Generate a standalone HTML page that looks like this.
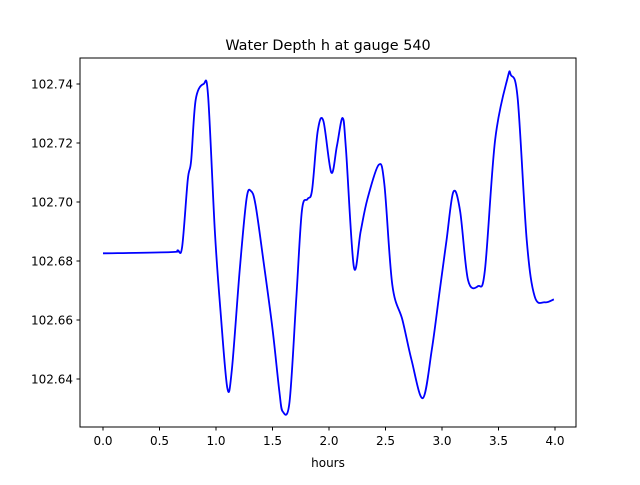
<!DOCTYPE html>
<html><head><meta charset="utf-8"><style>
body{margin:0;background:#fff;}
svg text{font-family:"DejaVu Sans","Liberation Sans",sans-serif;}
</style></head><body>
<svg width="640" height="480" xmlns="http://www.w3.org/2000/svg">
<rect width="640" height="480" fill="#fff"/>
<text x="328" y="50" text-anchor="middle" font-size="14.4">Water Depth h at gauge 540</text>
<g id="ticks"></g>
<path id="line" fill="none" stroke="#0000ff" stroke-width="1.8" stroke-linejoin="round"/>
<rect x="80" y="58" width="496" height="369" fill="none" stroke="#000" stroke-width="1"/>
<text x="328" y="467" text-anchor="middle" font-size="12">hours</text>
</svg>
<script>
const hours=[0,0.6,0.66,0.7,0.75,0.78,0.82,0.89,0.93,0.99,1.04,1.10,1.14,1.21,1.27,1.31,1.35,1.42,1.50,1.56,1.59,1.65,1.71,1.76,1.81,1.85,1.90,1.95,2.02,2.07,2.12,2.15,2.22,2.28,2.34,2.44,2.49,2.56,2.65,2.73,2.83,2.91,2.98,3.04,3.10,3.16,3.23,3.32,3.38,3.47,3.58,3.61,3.67,3.75,3.82,3.91,3.99];
const depth=[102.6826,102.683,102.6836,102.6847,102.7075,102.714,102.7346,102.74,102.736,102.690,102.663,102.637,102.643,102.677,102.701,102.7037,102.699,102.680,102.657,102.636,102.629,102.632,102.667,102.697,102.701,102.704,102.724,102.7275,102.710,102.719,102.7285,102.718,102.678,102.690,102.701,102.7126,102.706,102.672,102.660,102.6465,102.6335,102.650,102.670,102.687,102.7034,102.697,102.6736,102.6715,102.677,102.721,102.742,102.743,102.735,102.687,102.668,102.666,102.667];
const xTicks=[0,0.5,1,1.5,2,2.5,3,3.5,4];
const xTickLabels=["0.0","0.5","1.0","1.5","2.0","2.5","3.0","3.5","4.0"];
const yTicks=[102.64,102.66,102.68,102.70,102.72,102.74];
const yTickLabels=["102.64","102.66","102.68","102.70","102.72","102.74"];
const sx=h=>103+h*113;
const sy=v=>84+(102.74-v)*2950;
const NS="http://www.w3.org/2000/svg";
const g=document.getElementById('ticks');
function mk(tag,attrs){const e=document.createElementNS(NS,tag);for(const k in attrs)e.setAttribute(k,attrs[k]);return e;}
xTicks.forEach((t,i)=>{
 const l=mk('line',{x1:sx(t),x2:sx(t),y1:427,y2:430.5,stroke:'#000'});
 
 
 g.appendChild(l);
 const tx=mk('text',{x:sx(t),y:445,'text-anchor':'middle','font-size':'12'});
 tx.textContent=xTickLabels[i];
 
 
 g.appendChild(tx);
});
yTicks.forEach((t,i)=>{
 const l=mk('line',{x1:76.5,x2:80,y1:sy(t),y2:sy(t),stroke:'#000'});
 
 
 g.appendChild(l);
 const tx=mk('text',{x:73,y:sy(t)+4.5,'text-anchor':'end','font-size':'12'});
 tx.textContent=yTickLabels[i];
 
 
 g.appendChild(tx);
});
const P=hours.map((h,i)=>[sx(h),sy(depth[i])]);
let d='M'+P[0][0]+','+P[0][1];
for(let i=0;i<P.length-1;i++){
 const p0=P[Math.max(i-1,0)],p1=P[i],p2=P[i+1],p3=P[Math.min(i+2,P.length-1)];
 const c1=[p1[0]+(p2[0]-p0[0])/6,p1[1]+(p2[1]-p0[1])/6];
 const c2=[p2[0]-(p3[0]-p1[0])/6,p2[1]-(p3[1]-p1[1])/6];
 d+=' C'+c1+' '+c2+' '+p2;
}
document.getElementById('line').setAttribute('d',d);
</script>
</body></html>
